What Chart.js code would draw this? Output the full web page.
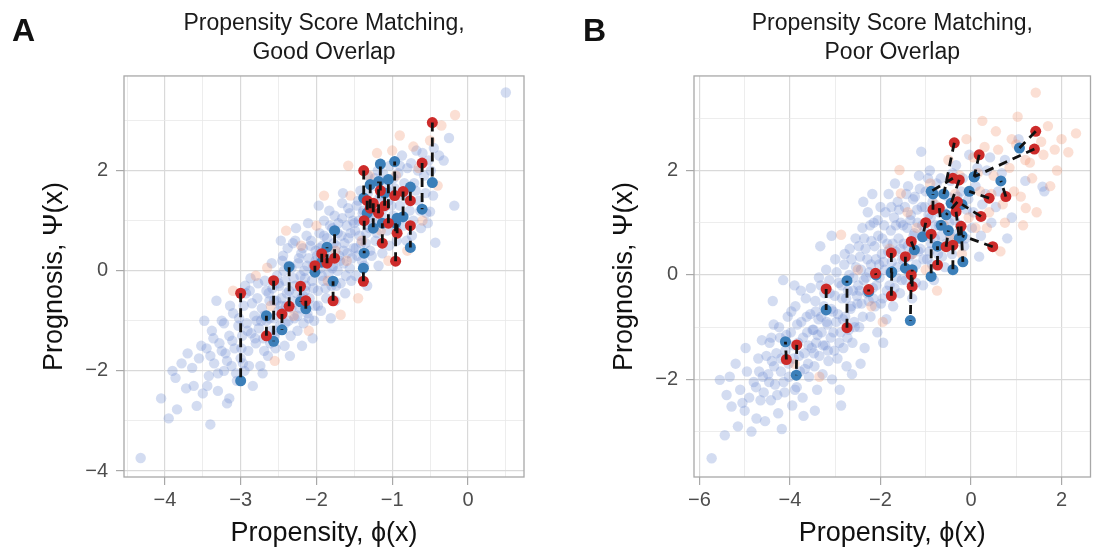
<!DOCTYPE html>
<html>
<head>
<meta charset="utf-8">
<title>Propensity Score Matching</title>
<script src="https://cdn.jsdelivr.net/npm/chart.js@4.4.1/dist/chart.umd.min.js"></script>
<style>
    html, body { margin: 0; padding: 0; background: #fff; }
    #wrap { position: relative; width: 1096px; height: 555px; }
    canvas { position: absolute; top: 0; }
    #panel-a { left: 0; }
    #panel-b { left: 548px; }
</style>
</head>
<body>
<div id="wrap">
    <canvas id="panel-a" width="548" height="555"></canvas>
    <canvas id="panel-b" width="548" height="555"></canvas>
</div>
<script>
// ===== DATA =====
// Points are [propensity, prognosis]. Faint = all units, pairs = matched units.

// Panel A: good overlap.
var A_CONTROL = [
    [-4.32, -3.74], [-3.84, -2.77], [-3.40, -3.07], [-3.58, -2.70], [-3.86, -2.14], [-3.64, -1.94],
    [-4.05, -2.55], [-3.72, -2.35], [-3.55, -1.75], [-3.95, -2.95], [-3.62, -2.30], [-3.78, -1.85],
    [-3.50, -2.45], [-3.90, -2.00],
    [-3.45, -1.55], [-3.42, -2.10], [-3.38, -1.20], [-3.35, -1.85], [-3.30, -2.40], [-3.28, -1.45],
    [-3.25, -1.00], [-3.22, -2.00], [-3.20, -1.65], [-3.18, -2.65], [-3.15, -1.30], [-3.12, -1.90],
    [-3.10, -0.85], [-3.08, -1.55], [-3.05, -2.20], [-3.03, -1.10], [-3.48, -1.00], [-3.32, -0.60],
    [-3.15, -2.55], [-3.00, -1.75], [-3.25, -1.60], [-3.40, -1.70],
    [-2.98, -1.30], [-2.96, -0.70], [-2.95, -2.00], [-2.92, -1.05], [-2.90, -1.60], [-2.88, -0.40],
    [-2.86, -1.25], [-2.84, -2.30], [-2.82, -0.90], [-2.80, -1.45], [-2.78, -0.55], [-2.76, -1.15],
    [-2.74, -1.90], [-2.72, -0.75], [-2.70, -1.35], [-2.68, -0.20], [-2.66, -1.00], [-2.64, -1.70],
    [-2.62, -0.60], [-2.60, -1.20], [-2.58, -0.35], [-2.56, -0.95], [-2.54, -1.55], [-2.52, -0.10],
    [-2.50, -0.80], [-2.97, -1.85], [-2.87, -0.15], [-2.79, -1.00], [-2.71, -2.05], [-2.63, -0.45],
    [-2.55, -1.30], [-2.93, -0.45], [-2.69, -0.90], [-2.61, -1.45], [-2.53, -0.60],
    [-2.49, -0.30], [-2.48, -1.10], [-2.46, -0.55], [-2.45, 0.20], [-2.44, -0.85], [-2.42, -1.50],
    [-2.41, -0.20], [-2.40, -0.70], [-2.38, 0.45], [-2.37, -1.00], [-2.36, -0.40], [-2.34, -1.30],
    [-2.33, 0.05], [-2.32, -0.60], [-2.30, -0.15], [-2.29, -0.95], [-2.28, 0.60], [-2.26, -0.45],
    [-2.25, -1.20], [-2.24, 0.15], [-2.22, -0.75], [-2.21, -0.10], [-2.20, 0.35], [-2.18, -0.50],
    [-2.17, -1.05], [-2.16, 0.00], [-2.14, -0.30], [-2.13, 0.70], [-2.12, -0.85], [-2.10, 0.25],
    [-2.09, -0.55], [-2.08, 0.50], [-2.06, -0.20], [-2.05, -1.35], [-2.04, 0.10], [-2.02, -0.70],
    [-2.01, 0.40], [-2.47, 0.60], [-2.35, -1.70], [-2.27, 0.85], [-2.19, -1.50], [-2.11, 0.95],
    [-2.03, -1.00], [-2.43, 0.00], [-2.15, -0.15],
    [-1.99, 0.30], [-1.98, -0.40], [-1.96, 0.75], [-1.95, 0.05], [-1.94, -0.80], [-1.92, 0.50],
    [-1.91, -0.20], [-1.90, 1.00], [-1.88, 0.20], [-1.87, -0.55], [-1.86, 0.65], [-1.84, -0.05],
    [-1.83, 1.20], [-1.82, 0.35], [-1.80, -0.30], [-1.79, 0.85], [-1.78, 0.10], [-1.76, 1.10],
    [-1.75, -0.60], [-1.74, 0.50], [-1.72, 0.00], [-1.71, 0.95], [-1.70, 0.30], [-1.68, -0.25],
    [-1.67, 0.70], [-1.66, 1.35], [-1.64, 0.15], [-1.63, 0.55], [-1.62, -0.45], [-1.60, 0.90],
    [-1.59, 0.35], [-1.58, 1.25], [-1.56, 0.05], [-1.55, 0.75], [-1.54, -0.20], [-1.52, 1.00],
    [-1.51, 0.45], [-1.97, 1.30], [-1.81, -0.95], [-1.65, 1.55],
    [-1.49, 0.80], [-1.47, 1.30], [-1.46, 0.30], [-1.44, 1.00], [-1.42, 1.60], [-1.41, 0.55],
    [-1.39, 1.15], [-1.37, 0.10], [-1.36, 1.45], [-1.34, 0.75], [-1.32, 1.90], [-1.31, 1.05],
    [-1.29, 0.40], [-1.27, 1.30], [-1.26, 0.90], [-1.24, 1.70], [-1.22, 0.60], [-1.21, 1.20],
    [-1.19, 2.00], [-1.17, 0.95], [-1.15, 1.50], [-1.13, 0.35], [-1.11, 1.25], [-1.09, 1.80],
    [-1.07, 0.80], [-1.05, 1.40], [-1.03, 2.10], [-1.48, -0.10], [-1.33, -0.30], [-1.18, 0.10],
    [-0.99, 1.10], [-0.97, 1.65], [-0.94, 0.60], [-0.92, 1.95], [-0.90, 1.30], [-0.87, 2.30],
    [-0.85, 0.90], [-0.82, 1.55], [-0.80, 2.05], [-0.77, 1.20], [-0.74, 0.70], [-0.71, 1.75],
    [-0.68, 2.40], [-0.65, 1.40], [-0.62, 0.85], [-0.58, 1.90], [-0.55, 1.15], [-0.52, 2.20],
    [-0.46, 1.50], [-0.43, 0.56], [-0.50, 1.18], [-0.32, 2.20], [-0.38, 2.30], [-0.25, 2.65],
    [-0.18, 1.30], [0.50, 3.56],
    [-3.22, -1.05], [-3.18, -1.80], [-3.14, -0.70], [-3.11, -1.40], [-3.06, -2.05], [-3.02, -0.95],
    [-2.99, -1.55], [-2.94, -0.30], [-2.91, -1.20], [-2.89, -1.90], [-2.85, -0.65], [-2.81, -1.35],
    [-2.77, -0.25], [-2.73, -1.00], [-2.69, -1.60], [-2.66, -0.40], [-2.62, -0.95], [-2.59, 0.15],
    [-2.56, -0.60], [-2.53, -1.20], [-2.50, -0.25], [-2.47, -0.70], [-2.44, 0.30], [-2.41, -1.05],
    [-2.39, -0.45], [-2.36, 0.10], [-2.33, -0.75], [-2.31, 0.55], [-2.28, -0.30], [-2.25, -0.90],
    [-2.23, 0.25], [-2.20, -0.55], [-2.18, 0.45], [-2.15, -0.40], [-2.12, 0.10], [-2.10, -0.95],
    [-2.07, 0.60], [-2.04, -0.35], [-2.01, 0.20], [-1.98, -0.70], [-1.96, 0.45], [-1.93, -0.10],
    [-1.90, 0.70], [-1.88, -0.35], [-1.85, 0.25], [-1.82, 0.90], [-1.79, 0.05], [-1.77, 0.55],
    [-1.74, -0.30], [-1.72, 0.75], [-1.69, 0.20], [-1.66, 1.05], [-1.64, 0.40], [-1.61, -0.10],
    [-1.58, 0.65], [-1.56, 1.15], [-1.53, 0.25], [-1.50, 0.95], [-1.48, 0.45], [-1.45, 1.40],
    [-1.43, 0.70], [-1.40, 0.20], [-1.38, 1.20], [-1.35, 0.55], [-1.32, 1.55], [-1.30, 0.85],
    [-1.27, 0.30], [-1.25, 1.10], [-1.23, 1.85], [-1.20, 0.75], [-1.17, 1.45], [-1.14, 0.55],
    [-1.12, 1.95], [-1.10, 1.05], [-1.07, 1.60], [-1.04, 0.50], [-1.01, 1.30], [-0.98, 1.85],
    [-0.95, 0.85], [-0.93, 1.50], [-0.90, 2.10], [-0.88, 1.05], [-0.84, 1.75], [-0.81, 0.60],
    [-0.78, 1.40], [-0.75, 2.15], [-0.72, 1.00], [-0.69, 1.60], [-0.66, 2.00], [-0.63, 1.20],
    [-0.60, 2.35], [-0.56, 1.55], [-0.53, 0.95], [-0.49, 2.00], [-0.45, 2.45], [-3.30, -2.05],
    [-3.36, -1.35], [-3.44, -2.30], [-3.52, -1.50], [-3.70, -1.65]
];
var A_TREATED = [
    [-0.17, 3.11], [-0.72, 2.48], [-1.58, 2.10], [-2.65, 0.06], [-1.68, -0.88], [-0.90, 2.70],
    [-0.60, 1.00], [-1.20, 2.35], [-2.10, -1.20], [-1.90, 1.50], [-2.40, 0.80], [-1.45, -0.55],
    [-0.35, 2.90], [-1.05, 0.20], [-2.80, -0.10], [-1.75, 0.40], [-2.30, -0.90], [-0.80, 0.40],
    [-1.30, 1.90], [-3.10, -0.40], [-0.50, 2.60], [-2.00, 0.90], [-1.55, 1.50], [-2.55, -1.80],
    [-1.40, 0.60], [-0.95, 1.90], [-1.15, 0.80], [-0.65, 2.05], [-1.85, -0.20], [-2.20, 0.50],
    [-0.40, 1.70], [-1.60, 0.20], [-2.60, -0.70], [-1.00, 2.40]
];
// Matched pairs: [treated x, treated y, control x, control y].
var A_PAIRS = [
    [-3.00, -0.45, -3.00, -2.20], [-2.565, -0.20, -2.565, -1.41], [-2.66, -1.30, -2.66, -0.90],
    [-2.455, -0.865, -2.455, -1.18], [-2.36, -0.71, -2.36, 0.08], [-2.21, -0.31, -2.21, -0.62],
    [-2.14, -0.60, -2.14, -0.76], [-2.02, 0.10, -2.02, -0.03], [-1.93, 0.34, -1.93, 0.17],
    [-1.86, 0.15, -1.86, 0.47], [-1.76, 0.25, -1.76, 0.80], [-1.78, -0.60, -1.78, -0.21],
    [-1.376, 2.00, -1.376, 1.45], [-1.156, 1.60, -1.156, 2.13], [-0.967, 1.50, -0.967, 2.18],
    [-0.605, 2.15, -0.605, 1.23], [-0.47, 2.96, -0.47, 1.76], [-0.76, 1.40, -0.76, 1.67],
    [-0.76, 0.90, -0.76, 0.465], [-0.955, 0.19, -0.955, 0.95], [-1.13, 0.55, -1.13, 0.95],
    [-1.38, -0.21, -1.38, 0.05], [-1.37, 1.00, -1.37, 0.35], [-1.29, 1.25, -1.29, 1.72],
    [-1.18, 1.15, -1.18, 1.78], [-1.05, 0.95, -1.05, 1.82], [-0.856, 1.58, -0.856, 1.08],
    [-1.25, 1.35, -1.25, 0.85], [-0.935, 0.75, -0.935, 1.05], [-1.33, 1.40, -1.33, 1.15],
    [-1.10, 1.30, -1.10, 1.55]
];
var A_X_TICKS = [-4, -3, -2, -1, 0];
var A_Y_TICKS = [-4, -2, 0, 2];
var A_X_RANGE = [-4.54, 0.74];
var A_Y_RANGE = [-4.12, 3.89];

// Panel B: poor overlap.
var B_CONTROL = [
    [-5.73, -3.51], [-5.44, -3.07], [-5.55, -2.01], [-5.33, -1.95], [-5.29, -2.52], [-4.74, -2.75],
    [-5.10, -2.20], [-5.00, -2.60], [-4.95, -1.85], [-4.90, -2.35], [-4.85, -3.00], [-4.80, -2.05],
    [-4.70, -1.60], [-4.65, -2.40], [-4.60, -1.95], [-4.55, -2.80], [-5.20, -1.70], [-5.15, -2.90],
    [-5.40, -2.30], [-4.98, -1.40], [-4.62, -1.25], [-5.05, -2.45],
    [-4.48, -1.90], [-4.45, -1.30], [-4.42, -2.40], [-4.40, -1.65], [-4.36, -0.95], [-4.33, -2.10],
    [-4.30, -1.50], [-4.26, -2.65], [-4.22, -1.20], [-4.20, -1.85], [-4.15, -0.10], [-4.12, -2.25],
    [-4.10, -1.45], [-4.05, -0.80], [-4.02, -1.95], [-3.98, -1.10], [-3.95, -2.50], [-3.92, -1.60],
    [-3.88, -0.60], [-3.85, -2.15], [-3.82, -1.30], [-3.78, -1.85], [-3.75, -0.90], [-3.72, -2.35],
    [-3.68, -1.50], [-3.65, -0.45], [-3.62, -1.10], [-3.58, -1.95], [-3.55, -0.75], [-3.52, -1.40],
    [-4.38, -0.50], [-4.18, -2.95], [-3.90, -0.20], [-3.70, -2.70], [-3.60, -1.70],
    [-3.48, -1.05], [-3.46, -1.75], [-3.44, -0.50], [-3.42, -1.30], [-3.40, -2.20], [-3.37, -0.85],
    [-3.35, -1.55], [-3.32, -0.20], [-3.30, -1.10], [-3.28, -1.90], [-3.25, -0.60], [-3.22, -1.35],
    [-3.20, 0.10], [-3.17, -0.95], [-3.15, -1.65], [-3.12, -0.35], [-3.10, -1.20], [-3.07, -2.00],
    [-3.05, -0.70], [-3.02, -1.45], [-3.00, 0.30], [-2.98, -0.90], [-2.95, -1.60], [-2.92, -0.15],
    [-2.90, -2.20], [-2.88, -1.10], [-2.85, -0.45], [-2.82, -1.40], [-2.80, 0.20], [-2.78, -0.80],
    [-2.75, -1.75], [-2.72, -0.30], [-2.70, -1.05], [-2.68, 0.50], [-2.65, -0.60], [-2.62, -1.30],
    [-2.60, -0.05], [-2.58, -0.90], [-2.55, 0.70], [-2.52, -0.40], [-3.33, 0.55], [-3.08, 0.75],
    [-2.87, -2.50], [-2.63, -1.90], [-3.45, -2.60],
    [-2.49, -0.20], [-2.47, -1.00], [-2.45, 0.35], [-2.42, -0.55], [-2.40, 0.90], [-2.37, -0.10],
    [-2.35, -1.40], [-2.33, 0.50], [-2.30, -0.35], [-2.28, 1.20], [-2.25, 0.05], [-2.22, -0.80],
    [-2.20, 0.65], [-2.17, -0.25], [-2.15, 1.00], [-2.12, -0.60], [-2.10, 0.30], [-2.07, -1.10],
    [-2.05, 0.75], [-2.02, -0.05], [-2.00, 1.30], [-1.97, 0.40], [-1.95, -0.45], [-1.92, 0.95],
    [-1.90, 0.10], [-1.87, -0.85], [-1.85, 0.60], [-1.82, 1.55], [-1.80, -0.20], [-1.77, 0.85],
    [-1.75, 0.25], [-1.72, -0.60], [-1.70, 1.10], [-1.67, 0.45], [-1.65, -0.05], [-1.62, 1.40],
    [-1.60, 0.70], [-1.57, -0.35], [-1.55, 1.00], [-1.52, 0.30], [-2.44, -1.70], [-2.18, 1.55],
    [-1.94, -1.30], [-1.68, 1.75], [-2.38, 1.40],
    [-1.49, 0.60], [-1.46, 1.30], [-1.44, -0.10], [-1.41, 0.90], [-1.39, 1.70], [-1.36, 0.35],
    [-1.33, 1.15], [-1.30, -0.45], [-1.27, 0.75], [-1.24, 1.50], [-1.21, 0.20], [-1.18, 1.00],
    [-1.15, 1.90], [-1.10, 2.36], [-1.12, 0.50], [-1.09, 1.30], [-1.06, -0.20], [-1.03, 0.85],
    [-1.00, 1.60], [-0.97, 0.30], [-0.94, 1.15], [-0.91, 2.00], [-0.88, 0.60], [-0.85, 1.40],
    [-0.82, -0.10], [-0.79, 0.95], [-0.76, 1.75], [-0.73, 0.40], [-0.70, 1.20], [-0.66, 0.75],
    [-0.62, 1.55], [-0.58, 0.15],
    [-0.48, 1.00], [-0.45, 1.80], [-0.42, 0.40], [-0.38, 1.35], [-0.33, 2.10], [-0.28, 0.80],
    [-0.22, 1.60], [-0.15, 0.55], [-0.10, 1.25], [-0.04, 2.30], [0.02, 0.90], [0.10, 1.70],
    [0.18, 0.35], [0.25, 1.35], [0.35, 2.00], [0.45, 1.00],
    [0.60, 1.60], [0.75, 2.20], [0.90, 1.10], [1.05, 2.60], [1.20, 1.80], [1.58, 1.69],
    [1.62, 1.60], [0.80, 0.70],
    [-4.75, -2.15], [-4.68, -1.85], [-4.58, -2.25], [-4.52, -1.55], [-4.46, -2.05], [-4.41, -1.20],
    [-4.35, -1.75], [-4.28, -2.30], [-4.24, -1.00], [-4.19, -1.60], [-4.14, -2.05], [-4.08, -1.15],
    [-4.03, -1.70], [-3.97, -0.70], [-3.93, -1.35], [-3.89, -2.20], [-3.84, -0.95], [-3.80, -1.55],
    [-3.76, -0.30], [-3.71, -1.20], [-3.67, -1.80], [-3.63, -0.80], [-3.59, -1.35], [-3.54, -0.25],
    [-3.50, -1.05], [-3.47, -1.50], [-3.43, -0.70], [-3.39, -1.15], [-3.36, -0.05], [-3.31, -0.80],
    [-3.27, -1.35], [-3.24, -0.35], [-3.19, -0.90], [-3.16, -1.45], [-3.13, -0.10], [-3.09, -0.65],
    [-3.04, -1.10], [-3.01, -0.40], [-2.97, 0.05], [-2.94, -0.75], [-2.91, -1.30], [-2.86, -0.20],
    [-2.83, -0.85], [-2.79, 0.40], [-2.76, -0.45], [-2.73, -1.20], [-2.69, 0.00], [-2.66, -0.65],
    [-2.64, 0.30], [-2.61, -0.30], [-2.57, -1.00], [-2.54, 0.15], [-2.51, -0.55], [-2.48, 0.55],
    [-2.46, -0.30], [-2.43, 0.10], [-2.39, -0.80], [-2.36, 0.70], [-2.32, -0.05], [-2.29, 0.30],
    [-2.26, -0.50], [-2.23, 0.95], [-2.21, 0.20], [-2.16, -0.45], [-2.13, 0.55], [-2.09, -0.20],
    [-2.06, 1.05], [-2.03, 0.20], [-1.99, -0.55], [-1.96, 0.70], [-1.93, 0.25], [-1.89, 1.20],
    [-1.86, -0.30], [-1.83, 0.45], [-1.79, 0.05], [-1.76, 1.30], [-1.73, 0.60], [-1.69, -0.25],
    [-1.66, 0.95], [-1.63, 0.15], [-1.59, 1.25], [-1.56, 0.50], [-1.53, -0.10], [-1.50, 0.95],
    [-1.47, 0.30], [-1.43, 1.55], [-1.40, 0.55], [-1.37, 0.05], [-1.34, 1.05], [-1.31, 0.40],
    [-1.28, 1.45], [-1.25, 0.80], [-1.22, -0.15], [-1.19, 1.25], [-1.16, 0.45], [-1.13, 1.65],
    [-1.08, 0.95], [-1.05, 0.30], [-1.02, 1.30], [-0.98, 0.75], [-0.95, 1.85], [-0.92, 0.45],
    [-0.89, 1.10], [-0.86, 0.20], [-0.83, 1.60], [-0.80, 0.70], [-0.77, 1.30], [-0.71, 0.95],
    [-0.67, 1.85], [-0.64, 0.35], [-0.60, 1.20], [-0.55, 0.60], [-0.51, 1.50], [-0.46, 0.75],
    [-0.41, 1.95], [-0.36, 1.05], [-0.30, 1.50], [-0.24, 0.95], [-0.18, 1.85], [-0.12, 0.70],
    [-0.06, 1.45], [0.05, 1.20], [0.14, 2.05], [0.22, 0.75], [0.32, 1.55], [0.42, 2.25],
    [0.55, 1.30], [0.68, 1.95]
];
var B_TREATED = [
    [1.43, 3.49], [2.32, 2.71], [1.03, 3.03], [1.21, 1.28], [-1.58, 2.01], [-1.55, 1.56],
    [-2.87, 0.77], [-3.35, -1.95], [0.30, 2.45], [0.55, 2.75], [0.85, 2.05], [1.00, 2.50],
    [1.30, 2.15], [1.60, 2.30], [1.90, 2.00], [0.15, 1.95], [0.40, 1.20], [0.70, 1.35],
    [-0.10, 2.60], [-0.35, 1.55], [-0.60, 0.95], [-0.90, 1.75], [-0.20, 0.40], [0.10, 0.90],
    [0.65, 0.45], [-1.20, 0.90], [-1.00, 0.10], [-0.50, 2.20], [1.15, 0.95], [0.95, 1.60],
    [-1.80, 0.50], [-2.20, -0.60], [-0.75, -0.30], [-1.40, 1.20], [0.25, 2.95], [1.70, 2.85],
    [-2.50, 0.10], [-1.95, -0.90], [2.00, 2.60], [-3.90, -1.70], [1.45, 1.20],
    [0.20, 1.60], [0.50, 1.90], [0.90, 2.60], [1.20, 2.20], [1.55, 2.55], [1.85, 2.40],
    [0.35, 0.90], [-0.05, 1.10], [0.75, 1.00], [1.10, 1.50], [-0.45, 0.70], [-0.80, 1.35],
    [0.05, 2.25], [0.60, 2.40], [1.35, 1.85], [-1.30, 0.40], [-0.25, 1.90], [1.75, 1.70],
    [0.45, 1.55], [2.15, 2.35]
];
var B_PAIRS = [
    [-4.08, -1.62, -4.10, -1.28], [-3.85, -1.34, -3.86, -1.92], [-3.20, -0.27, -3.20, -0.67],
    [-2.74, -1.01, -2.74, -0.11], [-2.26, -0.28, -2.26, -0.32], [-2.11, 0.03, -2.10, 0.00],
    [-1.76, 0.42, -1.76, 0.04], [-1.76, -0.40, -1.75, 0.06], [-1.45, 0.35, -1.45, 0.13],
    [-1.32, 0.64, -1.25, 0.48], [-1.32, 0.00, -1.34, -0.875], [-1.30, -0.22, -1.30, 0.10],
    [-0.88, 0.78, -0.88, -0.03], [-0.74, 0.19, -0.74, 0.55], [-0.84, 1.25, -0.84, 1.55],
    [-0.37, 2.53, -0.60, 1.55], [0.18, 2.30, 0.07, 1.88], [1.40, 2.41, 0.07, 1.88],
    [1.43, 2.75, 1.07, 2.43], [0.77, 1.50, 0.66, 1.80], [0.40, 1.47, -0.04, 1.60],
    [0.22, 1.12, -0.20, 1.35], [0.48, 0.54, -0.20, 0.75], [-0.22, 0.93, -0.18, 0.25],
    [-0.40, 0.57, -0.40, 0.10], [-0.40, 1.85, -0.88, 1.60], [-0.26, 1.82, -0.44, 1.37],
    [-0.33, 1.21, -0.26, 0.70], [-0.70, 1.28, -0.66, 0.95], [-0.55, 0.54, -0.50, 0.85],
    [-1.00, 1.00, -1.07, 0.73], [-0.30, 1.40, -0.55, 1.15]
];
var B_X_TICKS = [-6, -4, -2, 0, 2];
var B_Y_TICKS = [-2, 0, 2];
var B_X_RANGE = [-6.12, 2.64];
var B_Y_RANGE = [-3.87, 3.81];

// ===== HELPERS =====
var FONT = "'Liberation Sans', Arial, Helvetica, sans-serif";

var toPoints = function (list) {
    return list.map(function (p) { return { x: p[0], y: p[1] }; });
};

// Segments for the dashed match lines, separated by a gap point.
var pairLines = function (pairs) {
    var out = [];
    pairs.forEach(function (p) {
        out.push({ x: p[0], y: p[1] }, { x: p[2], y: p[3] }, { x: p[2], y: null });
    });
    return out;
};

// Major ticks plus the minor grid lines halfway between them (ggplot style).
var gridValues = function (major, min, max) {
    var half = (major[1] - major[0]) / 2;
    var start = major[0];
    var out = [];
    while (start - half >= min) {
        start -= half;
    }
    for (var v = start; v <= max + 1e-9; v += half) {
        out.push(Math.round(v * 100) / 100);
    }
    return out;
};

var tickLabel = function (v) {
    return v < 0 ? '\u2212' + Math.abs(v) : String(v);
};

var makeAxis = function (major, range, opts) {
    var values = gridValues(major, range[0], range[1]);
    var isMajor = function (ctx) {
        return ctx.tick && major.indexOf(ctx.tick.value) !== -1;
    };
    return {
        type: 'linear',
        position: opts.position,
        min: range[0],
        max: range[1],
        afterBuildTicks: function (scale) {
            scale.ticks = values.map(function (v) { return { value: v }; });
        },
        afterFit: function (scale) {
            if (opts.position === 'left') {
                scale.width = opts.size;
            } else {
                scale.height = opts.size;
            }
        },
        border: { display: false },
        grid: {
            color: function (ctx) { return isMajor(ctx) ? '#d9d9d9' : '#e8e8e8'; },
            lineWidth: function (ctx) { return isMajor(ctx) ? 1.2 : 0.8; },
            tickColor: function (ctx) { return isMajor(ctx) ? '#a8a8a8' : 'rgba(0,0,0,0)'; },
            tickLength: 8,
            tickWidth: 1.2
        },
        ticks: {
            autoSkip: false,
            maxRotation: 0,
            padding: opts.tickPadding,
            color: '#4d4d4d',
            font: { family: FONT, size: 20 },
            callback: function (v) {
                return major.indexOf(v) !== -1 ? tickLabel(v) : '';
            }
        },
        title: {
            display: true,
            text: opts.title,
            color: '#111',
            font: { family: FONT, size: 27 },
            padding: opts.titlePadding
        }
    };
};

// Panel frame and the bold panel letter.
var framePlugin = {
    id: 'panelFrame',
    afterDraw: function (chart, args, opts) {
        var a = chart.chartArea;
        var ctx = chart.ctx;
        ctx.save();
        ctx.strokeStyle = '#a8a8a8';
        ctx.lineWidth = 1.3;
        ctx.strokeRect(a.left, a.top, a.right - a.left, a.bottom - a.top);
        ctx.fillStyle = '#111';
        ctx.font = 'bold 32px ' + FONT;
        ctx.textBaseline = 'alphabetic';
        ctx.fillText(opts.letter, opts.letterX, 41);
        ctx.restore();
    }
};

var makePanel = function (canvasId, cfg) {
    return new Chart(document.getElementById(canvasId), {
        type: 'scatter',
        plugins: [framePlugin],
        data: {
            datasets: [
                {
                    label: 'match',
                    data: pairLines(cfg.pairs),
                    showLine: true,
                    spanGaps: false,
                    borderColor: '#111',
                    borderWidth: 2.8,
                    borderDash: [9, 6],
                    pointRadius: 0,
                    pointHoverRadius: 0
                },
                {
                    label: 'treated, matched',
                    data: cfg.pairs.map(function (p) { return { x: p[0], y: p[1] }; }),
                    backgroundColor: '#cd2b2a',
                    borderWidth: 0,
                    pointRadius: 5.5
                },
                {
                    label: 'control, matched',
                    data: cfg.pairs.map(function (p) { return { x: p[2], y: p[3] }; }),
                    backgroundColor: '#3c7fb9',
                    borderWidth: 0,
                    pointRadius: 5.5
                },
                {
                    label: 'treated',
                    data: toPoints(cfg.treated),
                    backgroundColor: 'rgba(240, 130, 90, 0.26)',
                    borderWidth: 0,
                    pointRadius: 5.2
                },
                {
                    label: 'control',
                    data: toPoints(cfg.control),
                    backgroundColor: 'rgba(110, 140, 210, 0.3)',
                    borderWidth: 0,
                    pointRadius: 5.2
                }
            ]
        },
        options: {
            responsive: false,
            animation: false,
            devicePixelRatio: 1,
            events: [],
            layout: { padding: { left: 0, right: cfg.padRight, top: 0, bottom: 0 } },
            plugins: {
                legend: { display: false },
                tooltip: { enabled: false },
                title: {
                    display: true,
                    text: cfg.title,
                    fullSize: false,
                    color: '#1a1a1a',
                    font: { family: FONT, size: 23, weight: 'normal', lineHeight: 1.26 },
                    padding: { top: 9, bottom: 9 }
                },
                panelFrame: { letter: cfg.letter, letterX: cfg.letterX }
            },
            scales: {
                x: makeAxis(cfg.xTicks, cfg.xRange, {
                    position: 'bottom', size: 78, tickPadding: 3,
                    title: 'Propensity, \u03d5(x)', titlePadding: { top: 0, bottom: 5 }
                }),
                y: makeAxis(cfg.yTicks, cfg.yRange, {
                    position: 'left', size: cfg.yAxisWidth, tickPadding: 8,
                    title: 'Prognosis, \u03a8(x)', titlePadding: { top: cfg.yTitlePad, bottom: 0 }
                })
            }
        }
    });
};

// ===== CHARTS =====
makePanel('panel-a', {
    letter: 'A', letterX: 12,
    title: ['Propensity Score Matching,', 'Good Overlap'],
    control: A_CONTROL, treated: A_TREATED, pairs: A_PAIRS,
    xTicks: A_X_TICKS, yTicks: A_Y_TICKS, xRange: A_X_RANGE, yRange: A_Y_RANGE,
    yAxisWidth: 124, yTitlePad: 38, padRight: 24
});

makePanel('panel-b', {
    letter: 'B', letterX: 35,
    title: ['Propensity Score Matching,', 'Poor Overlap'],
    control: B_CONTROL, treated: B_TREATED, pairs: B_PAIRS,
    xTicks: B_X_TICKS, yTicks: B_Y_TICKS, xRange: B_X_RANGE, yRange: B_Y_RANGE,
    yAxisWidth: 146, yTitlePad: 60, padRight: 4
});
</script>
</body>
</html>
